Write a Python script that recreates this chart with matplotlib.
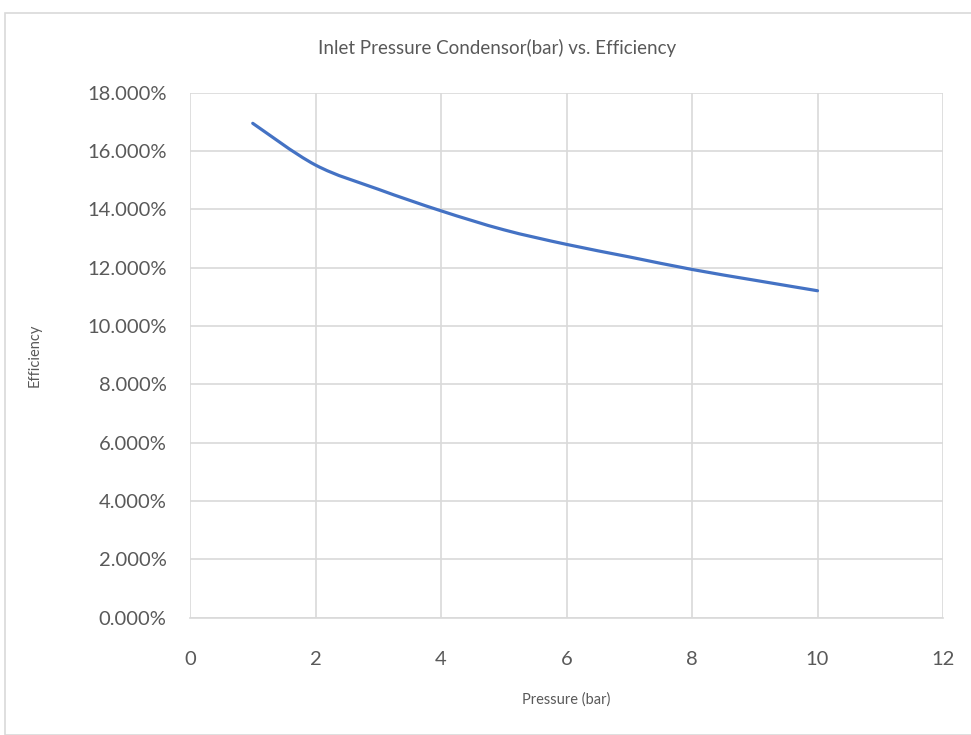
import numpy as np
import matplotlib
matplotlib.use("Agg")
import matplotlib.pyplot as plt
from matplotlib.patches import Rectangle, PathPatch
from matplotlib.path import Path
from matplotlib.ticker import FuncFormatter

# values
pressure = [1, 2, 3, 4, 5, 6, 7, 8, 9, 10]
efficiency = [0.1695, 0.1552, 0.1469, 0.1395, 0.1330, 0.1280, 0.1237, 0.1194, 0.1157, 0.1121]

x_ticks = [0, 2, 4, 6, 8, 10, 12]
y_ticks = [0.0, 0.02, 0.04, 0.06, 0.08, 0.10, 0.12, 0.14, 0.16, 0.18]

title = "Inlet Pressure Condensor(bar) vs. Efficiency"
xlabel = "Pressure (bar)"
ylabel = "Efficiency"

plt.rcParams['font.family'] = ['Lato', 'DejaVu Sans']
text_col = '#595959'
grid_col = '#d9d9d9'
line_col = '#4472C4'


def smooth_path(xs, ys):
    # Excel-like smoothed line: cubic Bezier segments through the points
    pts = np.column_stack([xs, ys]).astype(float)
    verts = [pts[0]]
    codes = [Path.MOVETO]
    n = len(pts)
    for i in range(n - 1):
        p0 = pts[i - 1] if i > 0 else pts[i]
        p1, p2 = pts[i], pts[i + 1]
        p3 = pts[i + 2] if i + 2 < n else pts[i + 1]
        c1 = p1 + (p2 - p0) / 6
        c2 = p2 - (p3 - p1) / 6
        verts += [c1, c2, p2]
        codes += [Path.CURVE4] * 3
    return Path(verts, codes)


W, H = 971, 735
fig = plt.figure(figsize=(W / 100, H / 100), dpi=100)

# outer chart border (runs off the right and bottom edges)
fig.patches.append(Rectangle((5 / W, 0), 2, 1 - 13 / H, transform=fig.transFigure,
                             fill=False, edgecolor=grid_col, linewidth=1.2))

left, right, top, bottom = 190, 943, 92.7, 617.7
ax = fig.add_axes([left / W, 1 - bottom / H, (right - left) / W, (bottom - top) / H])

ax.add_patch(PathPatch(smooth_path(pressure, efficiency), facecolor='none',
                       edgecolor=line_col, linewidth=2.3, capstyle='round'))

ax.set_xlim(0, 12)
ax.set_ylim(0, 0.18)
ax.set_xticks(x_ticks)
ax.set_yticks(y_ticks)
ax.yaxis.set_major_formatter(FuncFormatter(lambda v, p: f"{v * 100:.3f}%"))
ax.grid(True, color=grid_col, linewidth=1.2)
ax.set_axisbelow(True)
for side in ['top', 'right', 'left']:
    ax.spines[side].set_visible(False)
ax.spines['bottom'].set_color(grid_col)
ax.spines['bottom'].set_linewidth(1.2)
ax.tick_params(length=0, labelsize=14.5, labelcolor=text_col)
ax.tick_params(axis='x', pad=24)
ax.tick_params(axis='y', pad=17)

fig.text(497 / W, 1 - 48 / H, title, ha='center', va='center', fontsize=13.5, color=text_col)
fig.text(566 / W, 1 - 700 / H, xlabel, ha='center', va='center', fontsize=10.5, color=text_col)
fig.text(35 / W, 1 - 355 / H, ylabel, ha='center', va='center', rotation=90, fontsize=10.5, color=text_col)

fig.savefig("out.png", dpi=100)
